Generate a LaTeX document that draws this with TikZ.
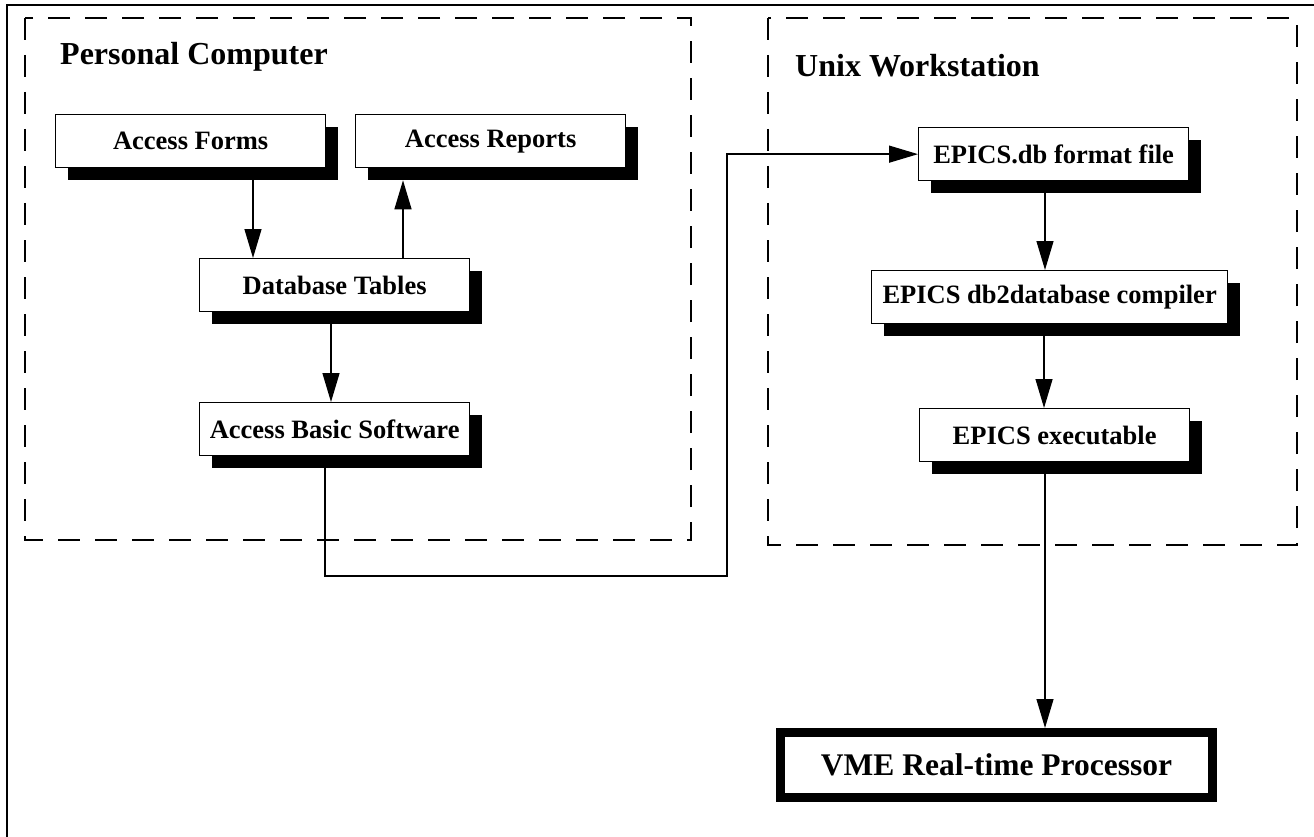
\documentclass[tikz,border=0pt]{standalone}
\usepackage{fontspec}
\setmainfont{Liberation Serif}
\usetikzlibrary{arrows.meta,shadows}

\begin{document}
\begin{tikzpicture}[x=1pt, y=-1pt, line join=miter,
  box/.style={draw, fill=white, line width=1.3pt, minimum width=270pt, minimum height=53pt,
    inner sep=2pt, font=\fontsize{26.5}{30}\selectfont\bfseries,
    drop shadow={shadow xshift=12pt, shadow yshift=-12pt, fill=black, opacity=1}},
  bigbox/.style={draw, fill=white, line width=9pt, minimum width=432pt, minimum height=65pt,
    font=\fontsize{31.5}{36}\selectfont\bfseries},
  grouptitle/.style={anchor=base west, inner sep=0pt, font=\fontsize{32}{36}\selectfont\bfseries},
  groupframe/.style={line width=1.3pt, dash pattern=on 22pt off 15pt},
  arr/.style={line width=1.3pt, -{Triangle[length=29pt, width=17pt]}}]
\useasboundingbox (0,0) rectangle (1314,837);

% === Outer frame ===
\draw[line width=2pt] (7,5) rectangle (1330,850);

% === Dashed groups ===
\draw[groupframe] (25,18) rectangle (691,540);
\draw[groupframe] (768,18) rectangle (1297,545);
\node[grouptitle] (pctitle) at (60,65) {Personal Computer};
\node[grouptitle] (unixtitle) at (795,77) {Unix Workstation};

% === Personal computer boxes ===
\node[box, anchor=north west] (forms) at (55,114) {Access Forms};
\node[box, anchor=north west] (rep) at (355,114) {Access Reports};
\node[box, anchor=north west] (db) at (199,258) {Database Tables};
\node[box, anchor=north west] (basic) at (199,402) {Access Basic Software};

% === Workstation boxes ===
\node[box, anchor=north west] (epdb) at (918,127) {EPICS.db format file};
\node[box, anchor=north west, minimum width=356pt] (comp) at (871,270) {EPICS db2database compiler};
\node[box, anchor=north west] (exe) at (919,408) {EPICS executable};
\node[bigbox] (vme) at (996.5,765) {VME Real-time Processor};

% === Connectors ===
\coordinate (bend) at (727,576);
\coordinate (exeout) at ([xshift=126pt]exe.south west);
\draw[arr] ([xshift=198pt]forms.south west) -- ([xshift=54pt]db.north west);
\draw[arr] ([xshift=204pt]db.north west) -- ([xshift=48pt, yshift=-12pt]rep.south west);
\draw[arr] ([xshift=132pt]db.south west) -- ([xshift=132pt]basic.north west);
\draw[arr] ([xshift=126pt]basic.south west) |- (bend) |- (epdb.west);
\draw[arr] ([xshift=127pt]epdb.south west) -- ([xshift=174pt]comp.north west);
\draw[arr] ([xshift=173pt]comp.south west) -- ([xshift=125pt]exe.north west);
\draw[arr] (exeout) -- (exeout |- vme.north);
\end{tikzpicture}
\end{document}
